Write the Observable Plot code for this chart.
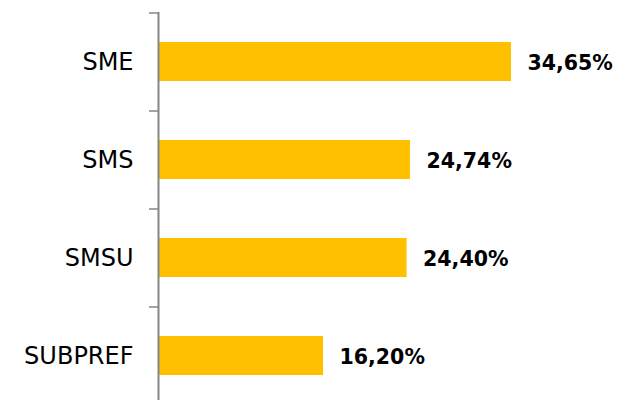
<!DOCTYPE html>
<html>
<head>
<meta charset="utf-8">
<script src="https://cdn.jsdelivr.net/npm/d3@7"></script>
<script src="https://cdn.jsdelivr.net/npm/@observablehq/plot@0.6"></script>
<style>
  html, body { margin: 0; padding: 0; background: #fff; }
  #chart svg { display: block; }
</style>
</head>
<body>
<div id="chart"></div>
<script>
const categories = ["SME", "SMS", "SMSU", "SUBPREF"];
const values = [34.65, 24.74, 24.40, 16.20];
const labels = ["34,65%", "24,74%", "24,40%", "16,20%"];

const data = categories.map((c, i) => ({cat: c, value: values[i], label: labels[i]}));

const chart = Plot.plot({
  width: 618,
  height: 400,
  marginTop: 12,
  marginBottom: 0,
  marginLeft: 158,
  marginRight: 0,
  style: {background: "#fff", fontFamily: "DejaVu Sans, sans-serif"},
  x: {domain: [0, d3.max(values)], range: [158, 511], axis: null},
  y: {domain: categories, range: [12.5, 404.5], paddingInner: 0.6, paddingOuter: 0.3, label: null},
  marks: [
    Plot.barX(data, {x: "value", y: "cat", fill: "#FFC000"}),
    Plot.ruleX([0], {stroke: "#868686", strokeWidth: 2}),
    Plot.axisY({tickSize: 9, tickFormat: () => "", dy: -49, stroke: "#868686", strokeWidth: 1.5, strokeOpacity: 1, label: null}),
    Plot.axisY({tickSize: 0, tickPadding: 25, fontSize: 24, fill: "#000", label: null}),
    Plot.text(data, {x: "value", y: "cat", text: "label", textAnchor: "start", dx: 16, dy: 1, fontSize: 20.5, fontWeight: "bold", fill: "#000"})
  ]
});
document.getElementById("chart").appendChild(chart);
</script>
</body>
</html>
